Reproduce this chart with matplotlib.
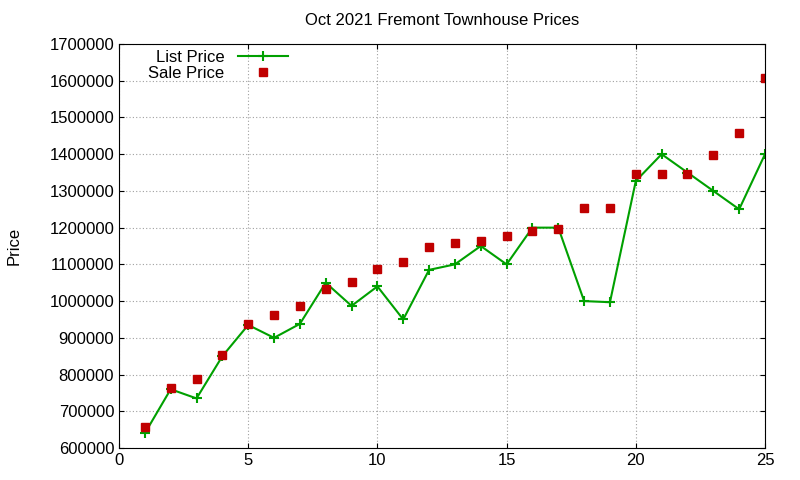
import matplotlib
matplotlib.use("Agg")
import matplotlib.pyplot as plt

plt.rcParams['font.family'] = ['Liberation Sans', 'DejaVu Sans']

x = list(range(1, 26))
list_price = [640000, 760000, 735000, 850000, 935000, 900000, 938000, 1050000, 987000, 1040000,
              950000, 1085000, 1100000, 1150000, 1100000, 1200000, 1200000, 1000000, 997000, 1327000,
              1400000, 1350000, 1300000, 1250000, 1400000]
sale_price = [657000, 763000, 788000, 853000, 938000, 962000, 987000, 1033000, 1052000, 1088000,
              1107000, 1148000, 1159000, 1164000, 1178000, 1191000, 1197000, 1254000, 1254000, 1347000,
              1347000, 1347000, 1398000, 1458000, 1608000]

fig = plt.figure(figsize=(8, 4.8), dpi=100)
ax = fig.add_axes([119/800, 1-448/480, (765-119)/800, (448-44)/480])
ax.plot(x, list_price, color="#00a000", marker="+", markersize=7, mew=1.5, lw=1.5, label="List Price")
ax.plot(x, sale_price, color="#c00000", marker="s", markersize=5.5, lw=0, label="Sale Price")
ax.set_xlim(0, 25)
ax.set_ylim(600000, 1700000)
ax.set_xticks(range(0, 26, 5))
ax.set_yticks(range(600000, 1700001, 100000))
ax.ticklabel_format(style="plain", axis="y")
ax.grid(True, color="#a0a0a0", linestyle=(0, (1, 2)), lw=0.8)
ax.tick_params(direction="in", top=True, right=True, labelsize=12)
ax.set_ylabel("Price", fontsize=12, labelpad=20)
ax.set_title("Oct 2021 Fremont Townhouse Prices", fontsize=12, pad=14)
leg = ax.legend(loc="upper left", bbox_to_anchor=(0.03, 1.01), frameon=False, fontsize=12,
                markerfirst=False, handlelength=3, borderaxespad=0.2, labelspacing=0.05)
for t in leg.get_texts():
    t.set_ha("right")
fig.savefig("out.png")
